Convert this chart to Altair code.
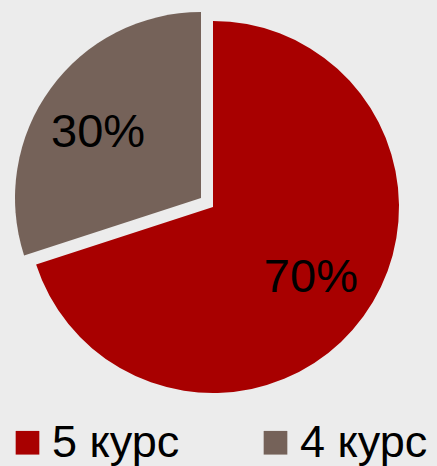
import altair as alt
import pandas as pd

categories = ["5 курс", "4 курс"]
values = [70, 30]
labels = ["70%", "30%"]
order_idx = [0, 1]
colors = ["#A80000", "#756259"]

df = pd.DataFrame({"cat": categories, "value": values, "label": labels, "idx": order_idx})

base = alt.Chart(df).encode(
    theta=alt.Theta("value:Q", stack=True),
    order=alt.Order("idx:Q"),
)

color = alt.Color(
    "cat:N",
    scale=alt.Scale(domain=categories, range=colors),
    legend=alt.Legend(
        title=None,
        orient="none",
        legendX=5,
        legendY=420,
        direction="horizontal",
        symbolType="square",
        symbolSize=560,
        symbolStrokeWidth=0,
        labelFontSize=45,
        labelFont="Liberation Sans",
        labelColor="black",
        labelOffset=2,
        columnPadding=73,
    ),
)

show_red = alt.condition(alt.datum.idx == 0, alt.value(1), alt.value(0))
show_grey = alt.condition(alt.datum.idx == 1, alt.value(1), alt.value(0))

red = base.mark_arc(outerRadius=186).encode(color=color, opacity=show_red)
grey = base.mark_arc(outerRadius=186, xOffset=-12, yOffset=-9).encode(color=color, opacity=show_grey)

txt_red = base.mark_text(radius=121, fontSize=47, font="Liberation Sans", color="black").encode(
    text="label:N", opacity=show_red
)
txt_grey = base.mark_text(radius=121, fontSize=47, font="Liberation Sans", color="black",
                          xOffset=-17, yOffset=-3).encode(text="label:N", opacity=show_grey)

chart = alt.layer(red, grey, txt_red, txt_grey).properties(
    width=426, height=414,
    padding={"left": 0, "top": 0, "right": 11, "bottom": 52},
    autosize=alt.AutoSizeParams(type="none"),
    background="#ECECEC",
).configure_view(stroke=None)

chart.save("out.html", embed_options={"renderer": "svg", "actions": False})
